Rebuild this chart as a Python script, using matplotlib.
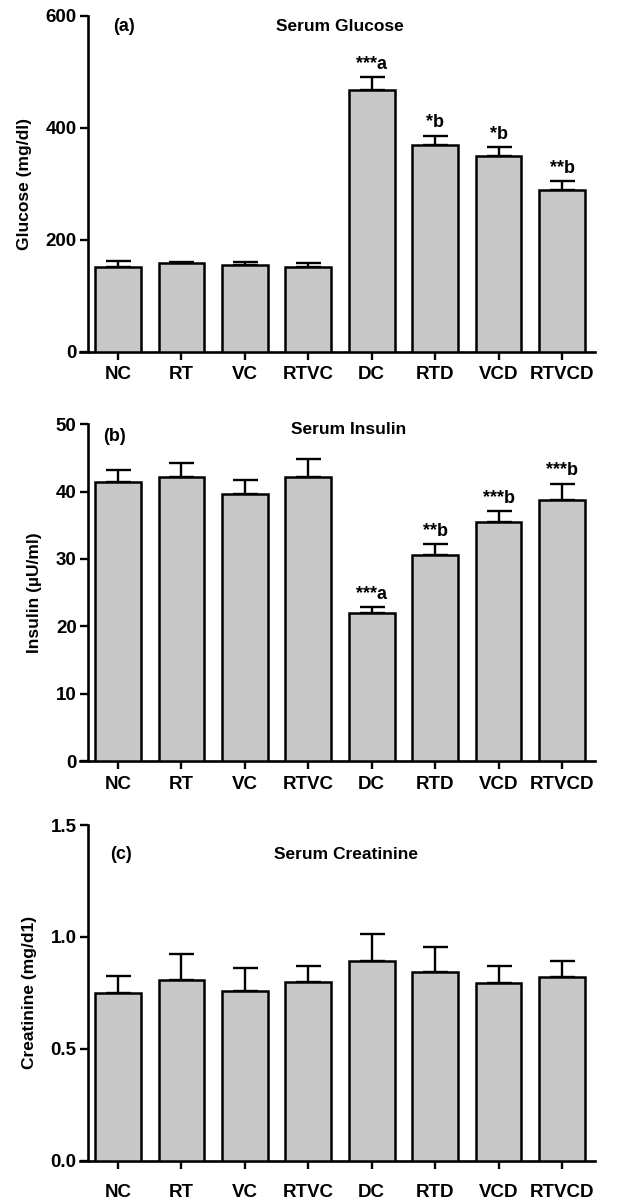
import matplotlib
matplotlib.use("Agg")
import matplotlib.pyplot as plt
import numpy as np

plt.rcParams['font.family'] = ['Liberation Sans', 'DejaVu Sans']
plt.rcParams['font.weight'] = 'bold'

# Data
groups = ["NC", "RT", "VC", "RTVC", "DC", "RTD", "VCD", "RTVCD"]

glucose = [151, 158, 154, 151, 467, 370, 349, 289]
glucose_err = [11, 3, 6, 7, 23, 16, 16, 16]
glucose_marks = ["", "", "", "", "***a", "*b", "*b", "**b"]

insulin = [41.5, 42.2, 39.6, 42.2, 22.0, 30.6, 35.5, 38.7]
insulin_err = [1.7, 2.0, 2.1, 2.7, 0.8, 1.6, 1.6, 2.5]
insulin_marks = ["", "", "", "", "***a", "**b", "***b", "***b"]

creatinine = [0.751, 0.806, 0.757, 0.799, 0.893, 0.842, 0.794, 0.819]
creatinine_err = [0.074, 0.116, 0.106, 0.073, 0.119, 0.113, 0.078, 0.074]
creatinine_marks = ["", "", "", "", "", "", "", ""]

panels = [
    dict(vals=glucose, err=glucose_err, marks=glucose_marks,
         ylabel="Glucose (mg/dl)", title="Serum Glucose", tag="(a)",
         ymax=600, yticks=[0, 200, 400, 600], fmt="{:.0f}",
         tag_y=580, title_y=580, title_x=3.5, tag_x=0.1,
         rect=[80 / 618, (1203 - 351.7) / 1203, 515 / 618, 336 / 1203], xpad=5),
    dict(vals=insulin, err=insulin_err, marks=insulin_marks,
         ylabel="Insulin (µU/ml)", title="Serum Insulin", tag="(b)",
         ymax=50, yticks=[0, 10, 20, 30, 40, 50], fmt="{:.0f}",
         tag_y=48.2, title_y=49.2, title_x=3.64, tag_x=-0.05,
         rect=[80 / 618, (1203 - 761) / 1203, 515 / 618, 336.7 / 1203], xpad=5),
    dict(vals=creatinine, err=creatinine_err, marks=creatinine_marks,
         ylabel="Creatinine (mg/d1)", title="Serum Creatinine", tag="(c)",
         ymax=1.5, yticks=[0.0, 0.5, 1.0, 1.5], fmt="{:.1f}",
         tag_y=1.366, title_y=1.366, title_x=3.6, tag_x=0.05,
         rect=[80 / 618, (1203 - 1160.7) / 1203, 515 / 618, 335.7 / 1203], xpad=11),
]

fig = plt.figure(figsize=(6.18, 12.03), dpi=100)
x = np.arange(len(groups))

for p in panels:
    ax = fig.add_axes(p["rect"])
    vals = np.array(p["vals"])
    err = np.array(p["err"])
    ax.bar(x, vals, width=0.72, color="#c8c8c8", edgecolor="black",
           linewidth=1.8, zorder=3)
    ax.errorbar(x, vals, yerr=[np.zeros_like(err), err], fmt="none",
                ecolor="black", elinewidth=1.7, capsize=9, capthick=1.7, zorder=2)
    for xi, v, e, m in zip(x, vals, err, p["marks"]):
        if m:
            ax.annotate(m, (xi, v + e), xytext=(0, 3), textcoords="offset points",
                        ha="center", va="bottom", fontsize=13, fontweight="bold")
    ax.set_xlim(-0.6, 7.52)
    ax.set_ylim(0, p["ymax"])
    ax.spines["left"].set_position(("data", -0.467))
    ax.spines["top"].set_visible(False)
    ax.spines["right"].set_visible(False)
    for s in ("left", "bottom"):
        ax.spines[s].set_linewidth(1.9)
    ax.set_xticks(x)
    ax.set_xticklabels(groups, fontsize=13.5, fontweight="bold")
    ax.set_yticks(p["yticks"])
    ax.set_yticklabels([p["fmt"].format(t) for t in p["yticks"]],
                       fontsize=13.5, fontweight="bold")
    ax.tick_params(axis="both", length=5.5, width=1.7)
    ax.tick_params(axis="x", pad=p["xpad"])
    ax.tick_params(axis="y", pad=3)
    ax.set_ylabel(p["ylabel"], fontsize=12.5, fontweight="bold", labelpad=10)
    ax.text(p["tag_x"], p["tag_y"], p["tag"], ha="center", va="center",
            fontsize=13, fontweight="bold")
    ax.text(p["title_x"], p["title_y"], p["title"], ha="center", va="center",
            fontsize=12.5, fontweight="bold")

fig.savefig("out.png", dpi=100)
